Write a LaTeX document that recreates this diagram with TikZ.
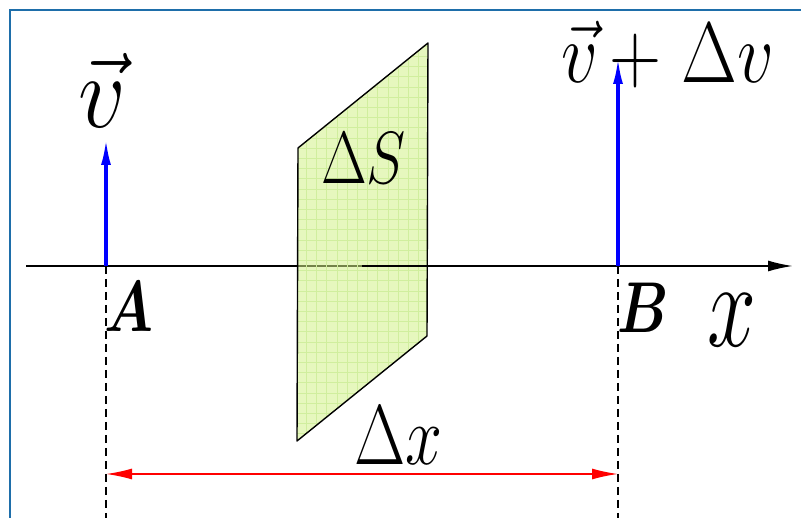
\RequirePackage{fix-cm}
\documentclass[tikz,border=0pt]{standalone}
\usepackage{bm}
\usepackage{graphicx}
\usetikzlibrary{arrows.meta}
\definecolor{framec}{RGB}{30,110,170}
\definecolor{sheetfill}{RGB}{209,240,136}
\definecolor{gridc}{RGB}{208,238,158}
\definecolor{vblue}{RGB}{0,0,255}
\definecolor{dred}{RGB}{255,0,0}
\begin{document}
\begin{tikzpicture}[x=1pt,y=-1pt,
  lbl/.style={inner sep=0pt, outer sep=0pt, anchor=base west},
  axisline/.style={line width=1.8pt, black},
  velarrow/.style={vblue, line width=3.2pt, -{Latex[length=26pt,width=10pt]}},
  dimarrow/.style={dred, line width=1.6pt, {Latex[length=26pt,width=11pt]}-{Latex[length=26pt,width=11pt]}},
  guide/.style={line width=1.6pt, dash pattern=on 8pt off 5pt},
  sheetedge/.style={line width=1.4pt, line join=round}]
\useasboundingbox (0,0) rectangle (801,518);
% frame
\draw[framec, line width=1.6pt] (10,530) -- (10,10) -- (812,10);
% coordinates
\coordinate (O) at (26,266);
\coordinate (Xend) at (793,266);
\coordinate (A) at (106,266);
\coordinate (B) at (618,266);
\coordinate (Atop) at (106,139);
\coordinate (Btop) at (618,58);
\coordinate (Abot) at (106,520);
\coordinate (Bbot) at (618,520);
\coordinate (dA) at (106,474);
\coordinate (dB) at (618,474);
\coordinate (P1) at (298,148);
\coordinate (P2) at (428,43);
\coordinate (P3) at (427,336);
\coordinate (P4) at (297,441);
\coordinate (Sin) at (362,266);
\coordinate (Sout) at (428,266);
% axis
\draw[axisline, -{Latex[length=25pt,width=11pt]}] (O) -- (Xend);
% sheet
\begin{scope}
  \clip (P1) -- (P2) -- (P3) -- (P4) -- cycle;
  \fill[sheetfill, opacity=0.55] (P1) -- (P2) -- (P3) -- (P4) -- cycle;
  \foreach \gx in {0,...,15} {\draw[gridc, line width=0.8pt] (286+10.2*\gx,35) -- (286+10.2*\gx,450);}
  \foreach \gy in {0,...,41} {\draw[gridc, line width=0.8pt] (285,36+10.2*\gy) -- (435,36+10.2*\gy);}
\end{scope}
\draw[sheetedge] (P1) -- (P2) -- (P3) -- (P4) -- cycle;
\draw[axisline] (Sin) -- (Sout);
% velocities
\draw[velarrow] (A) -- (Atop);
\draw[velarrow] (B) -- (Btop);
% guides
\draw[guide] (A) -- (Abot);
\draw[guide] (B) -- (Bbot);
\draw[dimarrow] (dA) -- (dB);
% labels
\node[lbl, font=\fontsize{104}{104}\selectfont] (vl) at (78,128) {\scalebox{0.9}[1]{$\vec{v}$}};
\node[lbl, font=\fontsize{86}{86}\selectfont] (vr) at (561,83) {\scalebox{0.84}[1]{$\vec{v}\mkern-1mu+\mkern1mu\Delta v$}};
\node[lbl, font=\fontsize{74}{74}\selectfont] (dS) at (321,184) {\scalebox{0.8}[1]{$\Delta S$}};
\node[lbl, font=\fontsize{85}{85}\selectfont] (dx) at (354,465) {\scalebox{0.78}[1]{$\Delta x$}};
\node[lbl, font=\fontsize{72}{72}\selectfont] (lA) at (104,332) {\scalebox{0.78}[1]{$\bm{A}$}};
\node[lbl, font=\fontsize{72}{72}\selectfont] (lB) at (617,333) {\scalebox{0.78}[1]{$\bm{B}$}};
\node[lbl, font=\fontsize{122}{122}\selectfont] (lx) at (707,347) {\scalebox{0.72}[1]{$x$}};
\end{tikzpicture}
\end{document}
